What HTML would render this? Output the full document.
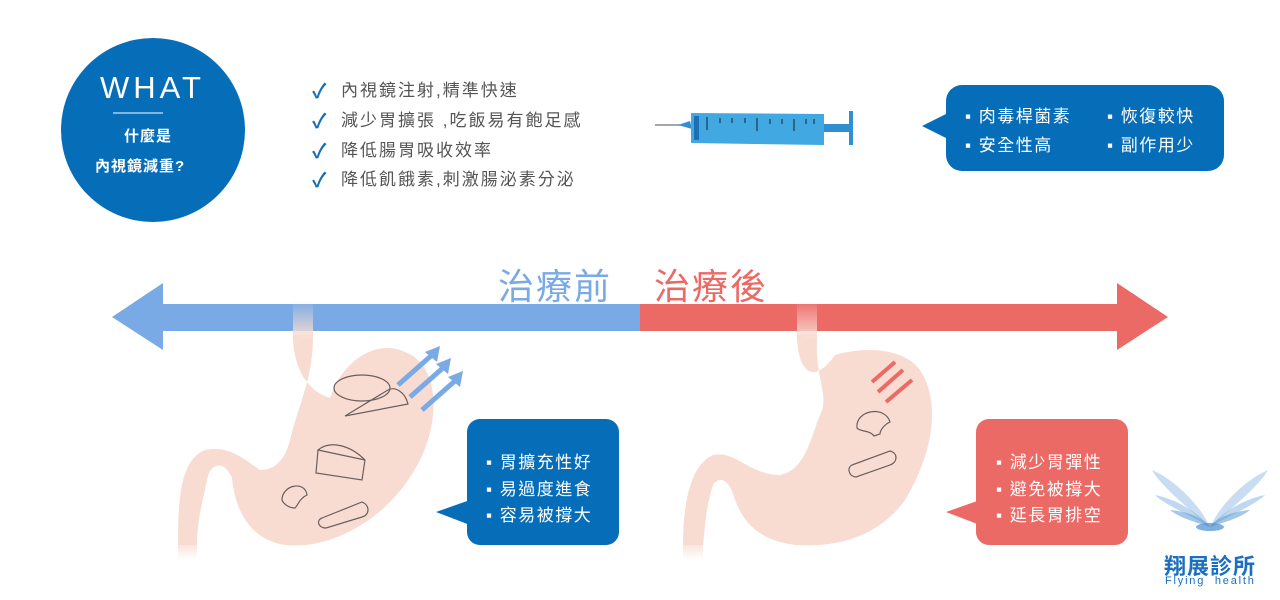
<!DOCTYPE html>
<html><head><meta charset="utf-8"><style>
body{margin:0;width:1280px;height:600px;background:#fff;position:relative;overflow:hidden;font-family:"Liberation Sans","Noto Sans CJK TC",sans-serif}
.a{position:absolute;white-space:nowrap}
.chk{color:#1a6fb5;font-size:20px;font-weight:bold}
.li{color:#555;font-size:17px;letter-spacing:2px}
.w{color:#fff;font-size:17px;letter-spacing:1.5px}
</style></head><body>
<svg class="a" style="left:0;top:0" width="1280" height="600">
<defs>
<linearGradient id="fade" x1="0" y1="0" x2="0" y2="1"><stop offset="0" stop-color="#f8dcd2" stop-opacity="0"/><stop offset="1" stop-color="#f8dcd2"/></linearGradient>
<linearGradient id="fade2" x1="0" y1="0" x2="0" y2="1"><stop offset="0" stop-color="#f8dcd2"/><stop offset="1" stop-color="#f8dcd2" stop-opacity="0"/></linearGradient>
</defs>
<circle cx="153" cy="130" r="92" fill="#066db8"/>
<line x1="113" y1="113" x2="163" y2="113" stroke="#fff" stroke-width="1"/>
<line x1="655" y1="125" x2="680" y2="125" stroke="#888" stroke-width="1.5"/>
<polygon points="678,125 690,121 692,129" fill="#2f8fd0"/>
<polygon points="691,113 824,114 824,145 691,143" fill="#42a8e2"/>
<rect x="694" y="116" width="5" height="24" fill="#1a6fb5"/>
<g stroke="#123" stroke-width="1"><line x1="707" y1="117" x2="707" y2="130"/><line x1="720" y1="118" x2="720" y2="123"/><line x1="732" y1="118" x2="732" y2="123"/><line x1="745" y1="118" x2="745" y2="123"/><line x1="757" y1="118" x2="757" y2="131"/><line x1="770" y1="119" x2="770" y2="124"/><line x1="782" y1="119" x2="782" y2="124"/><line x1="794" y1="119" x2="794" y2="131"/><line x1="806" y1="119" x2="806" y2="124"/><line x1="814" y1="119" x2="814" y2="124"/></g>
<rect x="824" y="124" width="27" height="8" fill="#2f8fd0"/>
<rect x="849" y="111" width="4" height="34" fill="#2f8fd0"/>
<rect x="946" y="85" width="278" height="86" rx="16" fill="#066db8"/>
<polygon points="922,126 950,112 950,140" fill="#066db8"/>
<rect x="160" y="304" width="480" height="27" fill="#7aaae6"/>
<polygon points="112,317 163,283 163,350" fill="#7aaae6"/>
<rect x="640" y="304" width="480" height="27" fill="#ec6a66"/>
<polygon points="1168,317 1117,283 1117,350" fill="#ec6a66"/>
<rect x="293" y="300" width="20" height="40" fill="url(#fade)"/>
<path d="M293,335 C293,365 305,390 330,398 C345,355 380,340 405,352 C440,365 440,420 420,460 C390,520 330,550 285,545 C250,540 235,510 232,478 C225,460 210,462 207,480 C203,500 197,520 197,545 L178,545 C178,500 180,460 205,450 C230,445 245,460 260,470 C275,470 285,460 290,440 C300,400 312,380 313,340 Z" fill="#f8dcd2"/>
<rect x="178" y="540" width="19" height="20" fill="url(#fade2)"/>
<g stroke="#7aaae6" stroke-width="5" fill="#7aaae6">
<line x1="398" y1="385" x2="432" y2="355"/><line x1="410" y1="397" x2="444" y2="367"/><line x1="422" y1="410" x2="456" y2="380"/></g>
<polygon points="440,346 425,352 437,362" fill="#7aaae6"/><polygon points="451,358 436,364 448,374" fill="#7aaae6"/><polygon points="463,371 448,377 460,387" fill="#7aaae6"/>
<g fill="none" stroke="#6b5e5e" stroke-width="1.2">
<ellipse cx="362" cy="388" rx="28" ry="13"/>
<path d="M345,416 L408,404 C405,392 395,386 388,390 Z"/>
<path d="M318,450 L365,460 L362,480 L316,473 Z M318,450 C330,440 350,445 365,460"/>
<path d="M282,500 C282,485 305,480 307,495 C300,498 298,505 295,508 C290,508 284,505 282,500 Z"/>
<path d="M322,518 L362,502 C370,505 370,515 362,517 L326,528 C318,528 316,520 322,518 Z"/>
</g>
<rect x="797" y="300" width="20" height="40" fill="url(#fade)"/>
<path d="M797,335 C797,365 810,390 835,355 C870,345 905,350 920,370 C940,400 935,450 905,500 C880,535 840,548 795,545 C760,540 745,525 735,500 C730,480 720,475 713,485 C705,510 705,530 703,545 L683,545 C683,505 690,465 713,455 C735,450 750,475 780,475 C805,470 810,440 820,415 C830,395 815,380 817,340 Z" fill="#f8dcd2"/>
<rect x="683" y="540" width="20" height="20" fill="url(#fade2)"/>
<g stroke="#ec6a66" stroke-width="4" fill="#ec6a66">
<line x1="872" y1="382" x2="895" y2="362"/><line x1="878" y1="392" x2="903" y2="370"/><line x1="886" y1="402" x2="912" y2="380"/></g>
<g fill="none" stroke="#6b5e5e" stroke-width="1.2">
<path d="M857,428 C855,410 885,405 890,422 C885,424 880,430 880,434 L874,436 C870,430 860,432 857,428 Z"/>
<path d="M852,465 L890,451 C898,453 898,462 890,465 L856,477 C848,476 847,467 852,465 Z"/>
</g>
<rect x="467" y="419" width="152" height="126" rx="13" fill="#066db8"/>
<polygon points="436,512 470,500 470,525" fill="#066db8"/>
<rect x="976" y="419" width="152" height="126" rx="13" fill="#ec6a66"/>
<polygon points="946,512 980,500 980,525" fill="#ec6a66"/>
<g fill="#4a8fd0">
<path d="M1210,527 C1190,510 1160,485 1152,470 C1175,480 1200,505 1210,527Z" opacity=".3"/>
<path d="M1210,527 C1190,515 1165,505 1155,495 C1180,500 1200,515 1210,527Z" opacity=".35"/>
<path d="M1210,527 C1195,522 1180,518 1170,510 C1190,512 1203,518 1210,527Z" opacity=".5"/>
<path d="M1210,527 C1230,510 1260,485 1268,470 C1245,480 1220,505 1210,527Z" opacity=".3"/>
<path d="M1210,527 C1230,515 1255,505 1265,495 C1240,500 1220,515 1210,527Z" opacity=".35"/>
<path d="M1210,527 C1225,522 1240,518 1250,510 C1230,512 1217,518 1210,527Z" opacity=".5"/>
<ellipse cx="1210" cy="527" rx="14" ry="4" opacity=".7"/>
</g>
</svg>
<div class="a" style="left:100px;top:70px;color:#fff;font-size:31px;letter-spacing:4px;font-weight:300">WHAT</div>
<div class="a" style="left:124px;top:125px;color:#fff;font-size:15px;font-weight:bold;letter-spacing:1px">什麼是</div>
<div class="a" style="left:95px;top:155px;color:#fff;font-size:15px;font-weight:bold;letter-spacing:1px">內視鏡減重?</div>
<div class="a chk" style="left:312px;top:75px">✓</div><div class="a li" style="left:341px;top:76px">內視鏡注射,精準快速</div>
<div class="a chk" style="left:312px;top:105px">✓</div><div class="a li" style="left:341px;top:106px">減少胃擴張 ,吃飯易有飽足感</div>
<div class="a chk" style="left:312px;top:135px">✓</div><div class="a li" style="left:341px;top:136px">降低腸胃吸收效率</div>
<div class="a chk" style="left:312px;top:164px">✓</div><div class="a li" style="left:341px;top:165px">降低飢餓素,刺激腸泌素分泌</div>
<div class="a w" style="left:965px;top:102px">▪ 肉毒桿菌素</div>
<div class="a w" style="left:1107px;top:102px">▪ 恢復較快</div>
<div class="a w" style="left:965px;top:131px">▪ 安全性高</div>
<div class="a w" style="left:1107px;top:131px">▪ 副作用少</div>
<div class="a" style="left:498px;top:258px;color:#7aaae6;font-size:36px;letter-spacing:2px">治療前</div>
<div class="a" style="left:654px;top:258px;color:#ec6a66;font-size:36px;letter-spacing:2px">治療後</div>
<div class="a w" style="left:486px;top:448px">▪ 胃擴充性好</div>
<div class="a w" style="left:486px;top:475px">▪ 易過度進食</div>
<div class="a w" style="left:486px;top:501px">▪ 容易被撐大</div>
<div class="a w" style="left:996px;top:448px">▪ 減少胃彈性</div>
<div class="a w" style="left:996px;top:475px">▪ 避免被撐大</div>
<div class="a w" style="left:996px;top:501px">▪ 延長胃排空</div>
<div class="a" style="left:1164px;top:549px;color:#1a6fc0;font-size:22px;font-weight:bold;letter-spacing:1px">翔展診所</div>
<div class="a" style="left:1165px;top:575px;color:#1a6fc0;font-size:11px;letter-spacing:1.8px">Flying &nbsp;health</div>
</body></html>
